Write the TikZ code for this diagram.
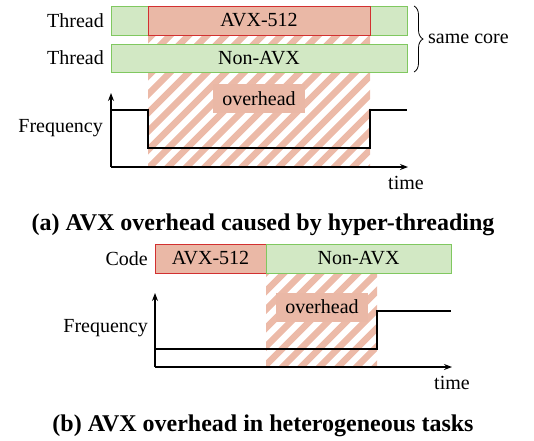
\documentclass[tikz,border=0pt]{standalone}
\usepackage{fontspec}
\setmainfont{Liberation Serif}
\usetikzlibrary{arrows.meta,decorations.pathreplacing}
\definecolor{gfill}{RGB}{210,232,196}
\definecolor{gdraw}{RGB}{128,200,96}
\definecolor{rfill}{RGB}{234,184,166}
\definecolor{rdraw}{RGB}{210,48,48}
\definecolor{hatchc}{RGB}{236,186,168}
\begin{document}
\begin{tikzpicture}[x=1pt,y=-1pt,
  every node/.style={font=\fontsize{20}{24}\selectfont, inner sep=0pt},
  greenbar/.style={draw=gdraw, fill=gfill, line width=0.9pt},
  redbar/.style={draw=rdraw, fill=rfill, line width=0.9pt},
  ovbox/.style={fill=rfill, minimum width=92pt, minimum height=29pt},
  hatchline/.style={draw=hatchc, line width=6.5pt},
  axis/.style={line width=1.1pt, -{Stealth[length=8pt,width=6pt]}},
  freq/.style={line width=1.1pt},
  caption/.style={font=\fontsize{24}{28}\selectfont\bfseries},
  lbl/.style={anchor=east}]
\useasboundingbox (0,0) rectangle (534,440);

% ---------- (a) ----------
\begin{scope}
  \clip (148,35) rectangle (370,167);
  \foreach \c in {150,168.5,...,560} \draw[hatchline] (\c,0) -- (\c-300,300);
\end{scope}
\node[greenbar, minimum width=296pt, minimum height=29pt] (t1) at (259,20.5) {};
\node[redbar, minimum width=222pt, minimum height=29pt] (avxa) at (259,20.5) {AVX-512};
\node[greenbar, minimum width=296pt, minimum height=28pt] (t2) at (259,58) {Non-AVX};
\node[lbl] (th1) at (104,20.5) {Thread};
\node[lbl] (th2) at (104,58) {Thread};
\coordinate (bt) at (414,6);
\coordinate (bb) at (414,72);
\draw[decorate, decoration={brace, amplitude=9pt}, line width=0.8pt] (bt) -- (bb);
\node[anchor=west] (core) at (428,39) {same core};
\node[ovbox] (ova) at (259,98.5) {overhead};
\coordinate (oa) at (111,167);
\coordinate (ya) at (111,93);
\coordinate (xa) at (408,167);
\draw[axis] (oa) -- (ya);
\draw[axis] (oa) -- (xa);
\coordinate (fa0) at (111,110);
\coordinate (fa1) at (148,110);
\coordinate (fa2) at (148,148);
\coordinate (fa3) at (370,148);
\coordinate (fa4) at (370,110);
\coordinate (fa5) at (407,110);
\draw[freq] (fa0) -- (fa1) -- (fa2) -- (fa3) -- (fa4) -- (fa5);
\node (tima) at (406,183) {time};
\node[lbl] (fqa) at (103,128) {Frequency};
\node[caption] (capa) at (263,225) {(a) AVX overhead caused by hyper-threading};

% ---------- (b) ----------
\begin{scope}
  \clip (266,273) rectangle (377,367);
  \foreach \c in {520,538.5,...,760} \draw[hatchline] (\c,0) -- (\c-500,500);
\end{scope}
\node[redbar, minimum width=111pt, minimum height=29pt] (avxb) at (210.5,258.5) {AVX-512};
\node[greenbar, minimum width=185pt, minimum height=29pt] (nonb) at (358.5,258.5) {Non-AVX};
\node[lbl] (code) at (148,258.5) {Code};
\node[ovbox] (ovb) at (322,307) {overhead};
\coordinate (ob) at (155,367);
\coordinate (yb) at (155,293);
\coordinate (xb) at (452,367);
\draw[axis] (ob) -- (yb);
\draw[axis] (ob) -- (xb);
\coordinate (fb0) at (155,349);
\coordinate (fb1) at (377,349);
\coordinate (fb2) at (377,311);
\coordinate (fb3) at (451,311);
\draw[freq] (fb0) -- (fb1) -- (fb2) -- (fb3);
\node (timb) at (452,383) {time};
\node[lbl] (fqb) at (148,328) {Frequency};
\node[caption] (capb) at (263,426) {(b) AVX overhead in heterogeneous tasks};
\end{tikzpicture}
\end{document}
